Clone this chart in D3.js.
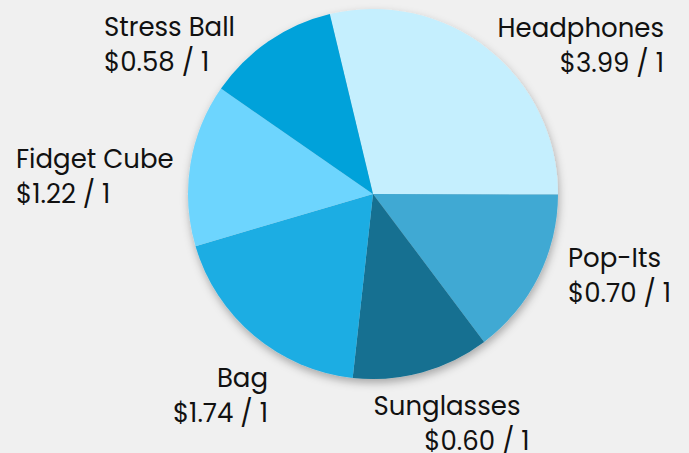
<!DOCTYPE html>
<html>
<head>
<meta charset="utf-8">
<script src="https://cdn.jsdelivr.net/npm/d3@7"></script>
<style>
  html, body { margin: 0; padding: 0; background: #f0f0f0; }
  #price-pie { width: 689px; height: 453px; }
  .slice-label { font-family: Poppins, 'Open Sans', sans-serif; font-size: 26px; fill: #111; }
</style>
</head>
<body>
<div id="price-pie"></div>
<script>
(function(d3) {
  'use strict';

  // data, in drawing order (clockwise)
  var products = ['Headphones', 'Pop-Its', 'Sunglasses', 'Bag', 'Fidget Cube', 'Stress Ball'];
  var shares   = [28.8, 14.7, 12.0, 18.7, 14.2, 11.6];
  var prices   = [3.99, 0.70, 0.60, 1.74, 1.22, 0.58];
  var units    = [1, 1, 1, 1, 1, 1];

  var colorMap = {
    'Headphones':  '#c5effe',
    'Pop-Its':     '#40a9d3',
    'Sunglasses':  '#136f91',
    'Bag':         '#1eade3',
    'Fidget Cube': '#6dd5fe',
    'Stress Ball': '#00a2da'
  };

  // label placement relative to pie centre
  var labelLayout = {
    'Headphones':  { x: 291,  y: -157, anchor: ['end', 'end'],       dx: [0, 0] },
    'Pop-Its':     { x: 195,  y: 73,   anchor: ['start', 'start'],   dx: [0, 0] },
    'Sunglasses':  { x: 74,   y: 221,  anchor: ['middle', 'middle'], dx: [0, 30] },
    'Bag':         { x: -105, y: 193,  anchor: ['end', 'end'],       dx: [0, 0] },
    'Fidget Cube': { x: -357, y: -26,  anchor: ['start', 'start'],   dx: [0, 0] },
    'Stress Ball': { x: -269, y: -158, anchor: ['start', 'start'],   dx: [0, 0] }
  };

  var width = 689, height = 453;
  var cx = 373, cy = 194, radius = 185;
  var lineGap = 35;

  var data = products.map(function(name, i) {
    return { name: name, share: shares[i], price: prices[i], unit: units[i] };
  });

  var svg = d3.select('#price-pie')
    .append('svg')
    .attr('width', width)
    .attr('height', height);

  var shadow = svg.append('defs').append('filter')
    .attr('id', 'pieshadow')
    .attr('x', '-20%').attr('y', '-20%')
    .attr('width', '140%').attr('height', '140%');
  shadow.append('feDropShadow')
    .attr('dx', 1)
    .attr('dy', 4)
    .attr('stdDeviation', 4)
    .attr('flood-color', '#000')
    .attr('flood-opacity', 0.3);

  var pie = d3.pie()
    .sort(null)
    .value(function(d) { return d.share; })
    .startAngle(-13.5 * Math.PI / 180)
    .endAngle((360 - 13.5) * Math.PI / 180);

  var arc = d3.arc().innerRadius(0).outerRadius(radius);

  var g = svg.append('g')
    .attr('transform', 'translate(' + cx + ',' + cy + ')');

  g.append('g')
    .attr('filter', 'url(#pieshadow)')
    .selectAll('path')
    .data(pie(data))
    .enter().append('path')
    .attr('d', arc)
    .attr('fill', function(d) { return colorMap[d.data.name]; });

  // two-line labels: name, then price / unit
  var labels = g.selectAll('text.slice-label')
    .data(data)
    .enter().append('text')
    .attr('class', 'slice-label');

  labels.append('tspan')
    .attr('x', function(d) { var l = labelLayout[d.name]; return l.x + l.dx[0]; })
    .attr('y', function(d) { return labelLayout[d.name].y; })
    .attr('text-anchor', function(d) { return labelLayout[d.name].anchor[0]; })
    .text(function(d) { return d.name; });

  labels.append('tspan')
    .attr('x', function(d) { var l = labelLayout[d.name]; return l.x + l.dx[1]; })
    .attr('y', function(d) { return labelLayout[d.name].y + lineGap; })
    .attr('text-anchor', function(d) { return labelLayout[d.name].anchor[1]; })
    .text(function(d) { return '$' + d.price.toFixed(2) + ' / ' + d.unit; });

}(d3));
</script>
</body>
</html>
